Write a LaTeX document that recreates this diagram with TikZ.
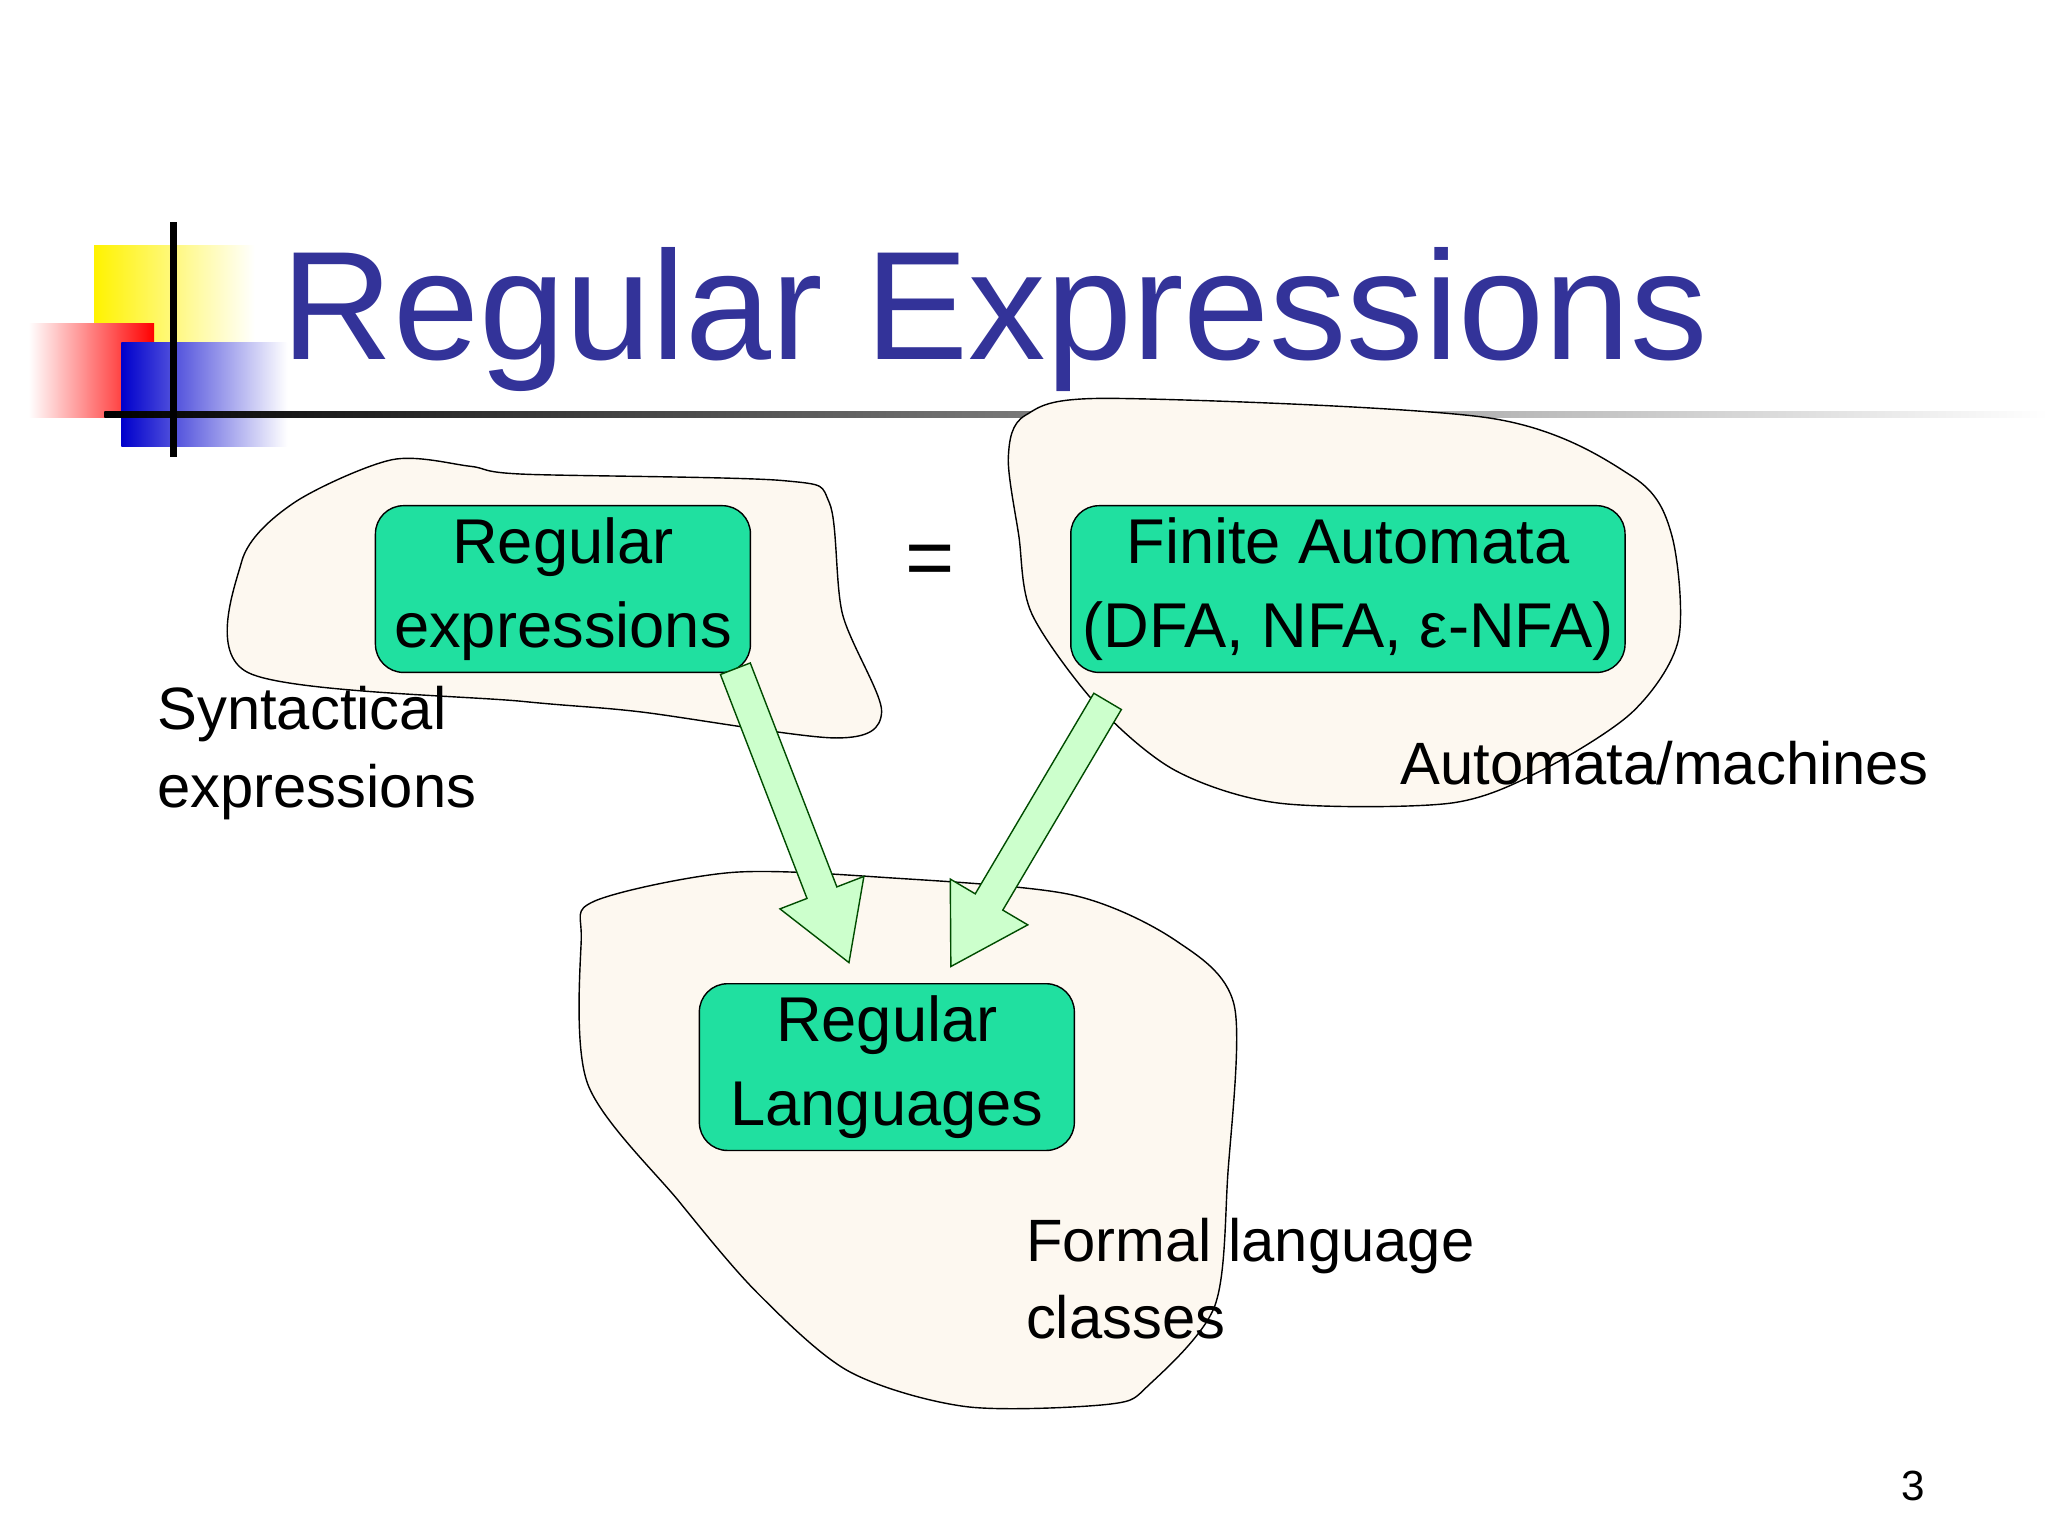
\documentclass[tikz,border=0pt]{standalone}
\usepackage{fontspec}
\setmainfont{Liberation Sans}
\usetikzlibrary{calc}

\definecolor{blobfill}{RGB}{253,248,240}
\definecolor{boxfill}{RGB}{32,224,160}
\definecolor{arrowfill}{RGB}{204,255,204}
\definecolor{titleblue}{RGB}{51,51,153}

\tikzset{
  blob/.style={draw=black, fill=blobfill, thin},
  langbox/.style={draw=black, fill=boxfill, rounded corners=8pt, align=center,
    minimum width=3.75cm, minimum height=1.54cm, font=\fontsize{18}{24}\selectfont},
  caption/.style={align=left, anchor=north west, inner sep=0pt, font=\fontsize{17}{22}\selectfont},
}

% fat arrow from #1 to #2
\newcommand{\fatarrow}[2]{%
  \filldraw[draw=black!70!green, fill=arrowfill, thin]
    ($(#1)!0.16cm!90:(#2)$) -- ($($(#2)!0.75cm!(#1)$)!0.16cm!90:(#2)$)
    -- ($($(#2)!0.75cm!(#1)$)!0.45cm!90:(#2)$) -- (#2)
    -- ($($(#2)!0.75cm!(#1)$)!0.45cm!-90:(#2)$)
    -- ($($(#2)!0.75cm!(#1)$)!0.16cm!-90:(#2)$)
    -- ($(#1)!0.16cm!-90:(#2)$) -- cycle;}

\begin{document}
\begin{tikzpicture}[x=0.013061cm, y=-0.013061cm]
  \useasboundingbox (0,0) rectangle (1568,1176);

  % logo
  \shade[left color=yellow!90!orange, right color=white] (72,188) rectangle (195,265);
  \shade[left color=white, right color=red] (22,248) rectangle (118,320);
  \shade[left color=blue!80!black, right color=white] (93,262) rectangle (220,342);
  \shade[left color=black, right color=white] (80,315) rectangle (1568,320);
  \draw[line width=2pt] (133,170) -- (133,350);

  \node[anchor=base west, inner sep=0pt, text=titleblue, font=\fontsize{44}{50}\selectfont]
    (title) at (215,275) {Regular Expressions};

  % blobs
  \draw[blob] plot[smooth cycle, tension=0.5] coordinates {(225,385) (300,352) (360,357) (400,363)
    (600,368) (635,385) (645,470) (675,545) (640,565) (490,545) (400,537) (190,515) (185,430)};
  \draw[blob] plot[smooth cycle, tension=0.5] coordinates {(785,318) (850,305) (1140,320) (1250,365)
    (1280,410) (1285,490) (1250,545) (1180,590) (1110,615) (980,615) (900,590) (840,540)
    (790,470) (780,410) (772,350)};
  \draw[blob] plot[smooth cycle, tension=0.5] coordinates {(455,690) (560,668) (680,672) (820,685)
    (900,720) (945,770) (940,900) (930,1000) (880,1060) (850,1075) (740,1077) (650,1050)
    (580,990) (520,920) (450,830) (445,720)};

  % boxes
  \node[langbox] (regex) at (431,451) {Regular\\expressions};
  \node[langbox, minimum width=5.12cm] (fa) at (1032,451) {Finite Automata\\(DFA, NFA, ε-NFA)};
  \node[langbox] (reglang) at (679,817) {Regular\\Languages};
  \node[font=\fontsize{24}{28}\selectfont] (eq) at (712,433) {=};

  % arrows
  \coordinate (t1) at (563,512);
  \coordinate (h1) at (650,737);
  \coordinate (t2) at (848,537);
  \coordinate (h2) at (728,740);
  \fatarrow{t1}{h1}
  \fatarrow{t2}{h2}

  % captions
  \node[caption] (syn) at (120,525) {Syntactical\\expressions};
  \node[caption] (auto) at (1072,567) {Automata/machines};
  \node[caption] (formal) at (785,932) {Formal language\\classes};
  \node[font=\fontsize{12}{14}\selectfont] (page) at (1465,1138) {3};
\end{tikzpicture}
\end{document}
